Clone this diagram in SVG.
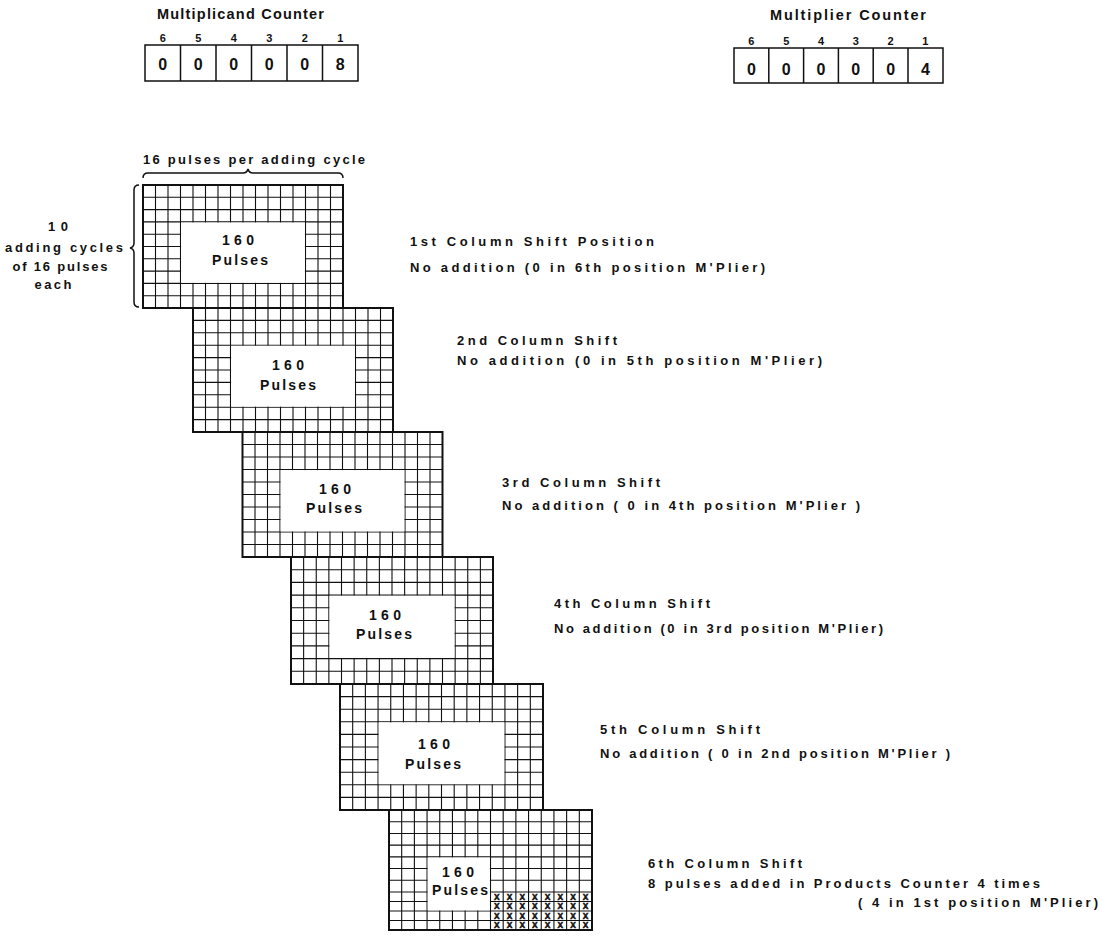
<svg xmlns="http://www.w3.org/2000/svg" xmlns:xlink="http://www.w3.org/1999/xlink" width="1102" height="941" viewBox="0 0 1102 941">
<style>
text{font-family:"Liberation Sans",Arial,sans-serif;font-weight:bold;fill:#111}
.t{font-size:14.5px}
.d{font-size:11px;text-anchor:middle}
.c{font-size:16px;text-anchor:middle}
.l{font-size:13px}
.p{font-size:14px;text-anchor:middle}
.x{font-size:8.4px;text-anchor:middle;stroke:#111;stroke-width:0.5}
.gl{stroke:#111;stroke-width:1.1;fill:none;vector-effect:non-scaling-stroke}
.bd{stroke:#111;stroke-width:2;fill:none;vector-effect:non-scaling-stroke}
.wh{fill:#fff;stroke:none}
.br{stroke:#111;stroke-width:1.5;fill:none}
.cell{stroke:#111;stroke-width:1.5;fill:#fff}
</style>
<defs>
<g id="gridbase">
<path class="gl" d="M12.5 0V124M25 0V124M37.5 0V124M50 0V124M62.5 0V124M75 0V124M87.5 0V124M100 0V124M112.5 0V124M125 0V124M137.5 0V124M150 0V124M162.5 0V124M175 0V124M187.5 0V124M0 12.4H200M0 24.8H200M0 37.2H200M0 49.6H200M0 62H200M0 74.4H200M0 86.8H200M0 99.2H200M0 111.6H200"/>
<rect class="wh" x="38.1" y="37.8" width="123.8" height="60.8"/>
<rect class="bd" x="0" y="0" width="200" height="124"/>
</g>
</defs>
<rect width="1102" height="941" fill="#fff"/>

<g id="multiplicand-counter">
<text class="t" x="157" y="19" textLength="167" lengthAdjust="spacing">Multiplicand Counter</text>
<text class="d" y="42"><tspan x="162.75">6</tspan><tspan x="198.25">5</tspan><tspan x="233.75">4</tspan><tspan x="269.25">3</tspan><tspan x="304.75">2</tspan><tspan x="340.25">1</tspan></text>
<path class="cell" d="M145 45H358V81H145ZM180.5 45V81M216 45V81M251.5 45V81M287 45V81M322.5 45V81"/>
<text class="c" y="70"><tspan x="162.75">0</tspan><tspan x="198.25">0</tspan><tspan x="233.75">0</tspan><tspan x="269.25">0</tspan><tspan x="304.75">0</tspan><tspan x="340.25">8</tspan></text>
</g>

<g id="multiplier-counter">
<text class="t" x="770" y="20" textLength="156" lengthAdjust="spacing">Multiplier Counter</text>
<text class="d" y="45"><tspan x="751.4">6</tspan><tspan x="786.2">5</tspan><tspan x="821">4</tspan><tspan x="855.8">3</tspan><tspan x="890.6">2</tspan><tspan x="925.4">1</tspan></text>
<path class="cell" d="M734 48H943V83H734ZM768.8 48V83M803.6 48V83M838.4 48V83M873.2 48V83M908 48V83"/>
<text class="c" y="75"><tspan x="751.4">0</tspan><tspan x="786.2">0</tspan><tspan x="821">0</tspan><tspan x="855.8">0</tspan><tspan x="890.6">0</tspan><tspan x="925.4">4</tspan></text>
</g>

<g id="annotations">
<text class="l" x="143" y="164" textLength="222" lengthAdjust="spacing">16 pulses per adding cycle</text>
<path class="br" d="M143 178Q143 173 148 173H243Q247 173 248 169Q249 173 253 173H338Q343 173 343 178"/>
<path class="br" d="M139 185Q134 185 134 190V243Q134 247 130 248Q134 249 134 253V302Q134 307 139 307"/>
<text class="l" x="58" y="231" text-anchor="middle" textLength="20" lengthAdjust="spacing">10</text>
<text class="l" x="64" y="252" text-anchor="middle" textLength="118" lengthAdjust="spacing">adding cycles</text>
<text class="l" x="60" y="271" text-anchor="middle" textLength="95" lengthAdjust="spacing">of 16 pulses</text>
<text class="l" x="53" y="289" text-anchor="middle" textLength="37" lengthAdjust="spacing">each</text>
</g>

<g id="grid1">
<use xlink:href="#gridbase" transform="translate(143,185) scale(1,0.992)"/>
<text class="p" x="238" y="245" textLength="32" lengthAdjust="spacing">160</text>
<text class="p" x="240" y="265" textLength="56" lengthAdjust="spacing">Pulses</text>
</g>
<g id="grid2">
<use xlink:href="#gridbase" transform="translate(193,308)"/>
<text class="p" x="288" y="370" textLength="32" lengthAdjust="spacing">160</text>
<text class="p" x="288" y="390" textLength="56" lengthAdjust="spacing">Pulses</text>
</g>
<g id="grid3">
<use xlink:href="#gridbase" transform="translate(242.5,432) scale(1,1.008)"/>
<text class="p" x="335" y="494" textLength="32" lengthAdjust="spacing">160</text>
<text class="p" x="334" y="513" textLength="56" lengthAdjust="spacing">Pulses</text>
</g>
<g id="grid4">
<use xlink:href="#gridbase" transform="translate(291,557) scale(1.01,1.024)"/>
<text class="p" x="385" y="620" textLength="32" lengthAdjust="spacing">160</text>
<text class="p" x="384" y="639" textLength="56" lengthAdjust="spacing">Pulses</text>
</g>
<g id="grid5">
<use xlink:href="#gridbase" transform="translate(340,684) scale(1.015,1.016)"/>
<text class="p" x="434" y="749" textLength="32" lengthAdjust="spacing">160</text>
<text class="p" x="433" y="769" textLength="56" lengthAdjust="spacing">Pulses</text>
</g>
<g id="grid6">
<path class="gl" d="M401.69 810V930M414.38 810V930M427.06 810V930M439.75 810V930M452.44 810V930M465.13 810V930M477.81 810V930M490.5 810V930M503.19 810V930M515.88 810V930M528.56 810V930M541.25 810V930M553.94 810V930M566.63 810V930M579.31 810V930M389 821.71H592M389 833.43H592M389 845.14H592M389 856.86H592M389 868.57H592M389 880.29H592M389 892H592M389 901.5H592M389 911H592M389 920.5H592"/>
<rect class="wh" x="427.7" y="857.5" width="62.2" height="52.9"/>
<rect class="bd" x="389" y="810" width="203" height="120"/>
<text class="p" x="458" y="877" textLength="32" lengthAdjust="spacing">160</text>
<text class="p" x="460" y="895" textLength="56" lengthAdjust="spacing">Pulses</text>
<text class="x" x="496.84 509.53 522.22 534.91 547.59 560.28 572.97 585.66" y="899.8">XXXXXXXX</text>
<text class="x" x="496.84 509.53 522.22 534.91 547.59 560.28 572.97 585.66" y="909.3">XXXXXXXX</text>
<text class="x" x="496.84 509.53 522.22 534.91 547.59 560.28 572.97 585.66" y="918.8">XXXXXXXX</text>
<text class="x" x="496.84 509.53 522.22 534.91 547.59 560.28 572.97 585.66" y="928.3">XXXXXXXX</text>
</g>

<g id="label1">
<text class="l" x="410" y="246" textLength="244" lengthAdjust="spacing">1st Column Shift Position</text>
<text class="l" x="410" y="272" textLength="355" lengthAdjust="spacing">No addition (0 in 6th position M'Plier)</text>
</g>
<g id="label2">
<text class="l" x="457" y="345" textLength="160" lengthAdjust="spacing">2nd Column Shift</text>
<text class="l" x="457" y="365" textLength="365" lengthAdjust="spacing">No addition (0 in 5th position M'Plier)</text>
</g>
<g id="label3">
<text class="l" x="502" y="487" textLength="158" lengthAdjust="spacing">3rd Column Shift</text>
<text class="l" x="502" y="510" textLength="358" lengthAdjust="spacing">No addition ( 0 in 4th position M'Plier )</text>
</g>
<g id="label4">
<text class="l" x="554" y="608" textLength="156" lengthAdjust="spacing">4th Column Shift</text>
<text class="l" x="554" y="633" textLength="329" lengthAdjust="spacing">No addition (0 in 3rd position M'Plier)</text>
</g>
<g id="label5">
<text class="l" x="600" y="734" textLength="160" lengthAdjust="spacing">5th Column Shift</text>
<text class="l" x="600" y="758" textLength="350" lengthAdjust="spacing">No addition ( 0 in 2nd position M'Plier )</text>
</g>
<g id="label6">
<text class="l" x="648" y="868" textLength="154" lengthAdjust="spacing">6th Column Shift</text>
<text class="l" x="648" y="888" textLength="392" lengthAdjust="spacing">8 pulses added in Products Counter 4 times</text>
<text class="l" x="858" y="907" textLength="240" lengthAdjust="spacing">( 4 in 1st position M'Plier)</text>
</g>
</svg>
